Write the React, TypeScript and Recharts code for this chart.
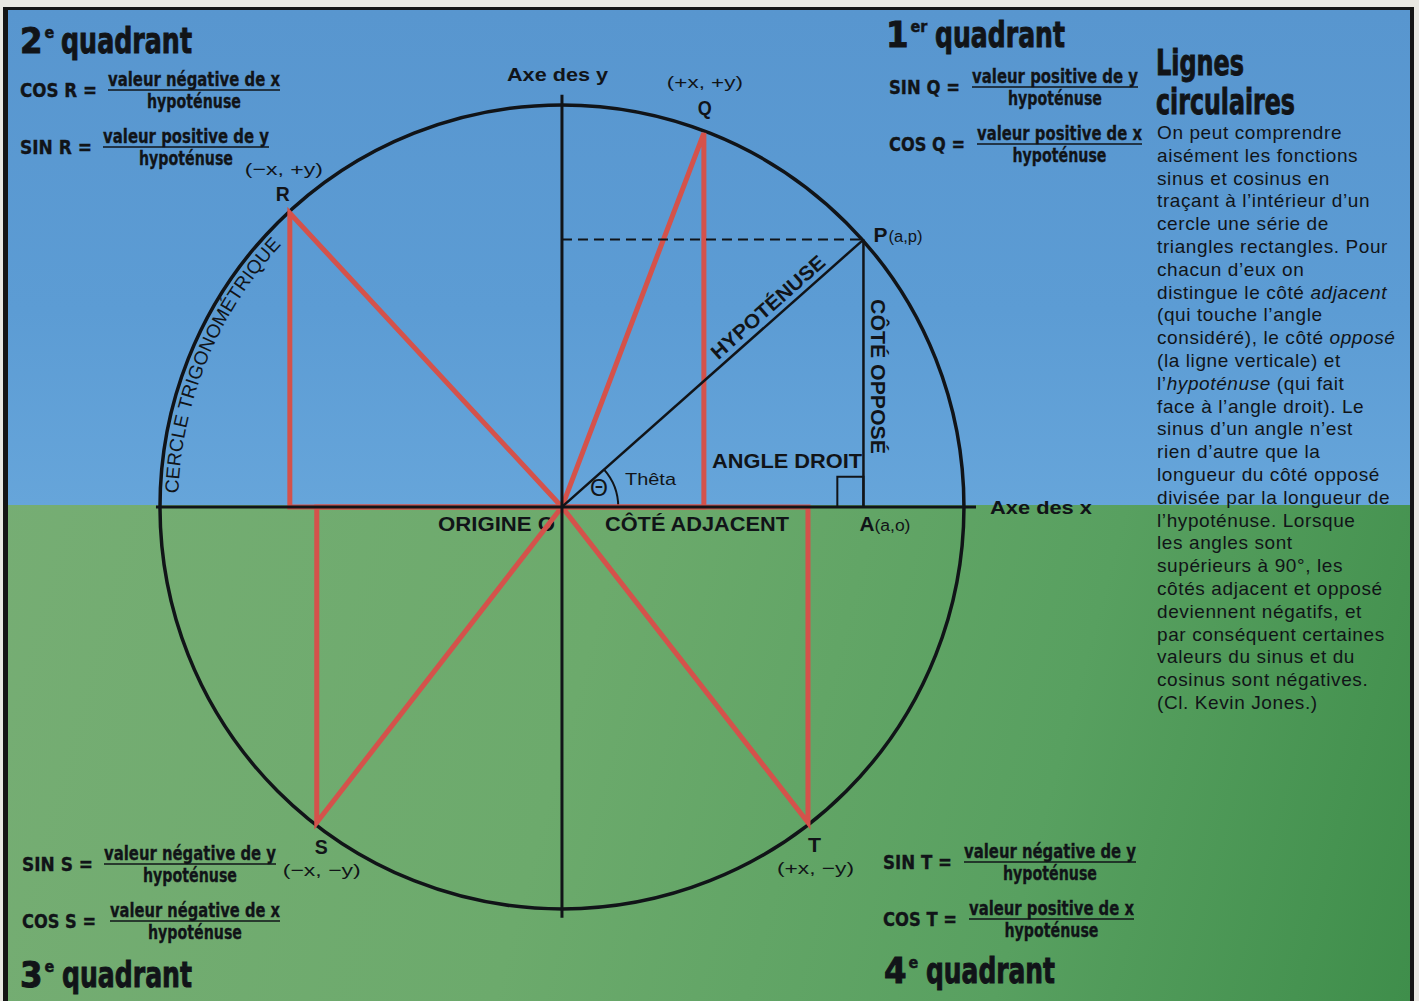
import React from 'react';
import {
  ComposedChart,
  XAxis,
  YAxis,
  Line,
  ReferenceLine,
  ReferenceArea,
  ReferenceDot,
  Customized,
} from 'recharts';

const W = 1419;
const H = 1001;
const INK = '#111418';
const RED = '#d4524b';
const NARROW = '"Liberation Sans Narrow", "DejaVu Sans Condensed", "Roboto Condensed", sans-serif';
const SANS = '"Liberation Sans", Arial, Helvetica, sans-serif';

// unit circle, radius = 1
const origin = { x: 0, y: 0 };
const pointP = { x: 0.75, y: 0.665 };
const pointA = { x: 0.75, y: 0 };
const pointQ = { x: 0.353, y: 0.93 };
const pointR = { x: -0.677, y: 0.731 };
const pointS = { x: -0.61, y: -0.785 };
const pointT = { x: 0.612, y: -0.785 };

const triangleQ = [origin, pointQ, { x: pointQ.x, y: 0 }, origin];
const triangleR = [origin, pointR, { x: pointR.x, y: 0 }, origin];
const triangleS = [origin, pointS, { x: pointS.x, y: 0 }, origin];
const triangleT = [origin, pointT, { x: pointT.x, y: 0 }, origin];
const hypotenuse = [origin, pointP];
const opposite = [pointP, pointA];

const xDomain = [-1.398, 2.132];
const yDomain = [-1.229, 1.261];
const xAxisExtent = [-1.01, 1.03];
const yAxisExtent = [-1.022, 1.025];

const thetaDeg = (Math.atan2(pointP.y, pointP.x) * 180) / Math.PI;

const formulas = [
  { label: 'COS R =', num: 'valeur négative de x' },
  { label: 'SIN R =', num: 'valeur positive de y' },
  { label: 'SIN Q =', num: 'valeur positive de y' },
  { label: 'COS Q =', num: 'valeur positive de x' },
  { label: 'SIN S =', num: 'valeur négative de y' },
  { label: 'COS S =', num: 'valeur négative de x' },
  { label: 'SIN T =', num: 'valeur négative de y' },
  { label: 'COS T =', num: 'valeur positive de x' },
];
const formulaLayout = [
  { x: 20, y: 86, lw: 77, nx: 108, nw: 172 },
  { x: 20, y: 143, lw: 72, nx: 103, nw: 166 },
  { x: 889, y: 83, lw: 71, nx: 972, nw: 166 },
  { x: 889, y: 140, lw: 76, nx: 977, nw: 165 },
  { x: 22, y: 860, lw: 71, nx: 104, nw: 172 },
  { x: 22, y: 917, lw: 74, nx: 110, nw: 170 },
  { x: 883, y: 858, lw: 69, nx: 964, nw: 172 },
  { x: 883, y: 915, lw: 74, nx: 969, nw: 165 },
];

const quadrants = [
  { num: '2', sup: 'e' },
  { num: '1', sup: 'er' },
  { num: '3', sup: 'e' },
  { num: '4', sup: 'e' },
];
const quadrantLayout = [
  { x: 20, wx: 61, ww: 131, y: 53 },
  { x: 886, wx: 935, ww: 130, y: 47 },
  { x: 20, wx: 62, ww: 130, y: 987 },
  { x: 884, wx: 926, ww: 129, y: 983 },
];

// _..._ marks italic words
const paragraph = [
  'On peut comprendre',
  'aisément les fonctions',
  'sinus et cosinus en',
  'traçant à l’intérieur d’un',
  'cercle une série de',
  'triangles rectangles. Pour',
  'chacun d’eux on',
  'distingue le côté _adjacent_',
  '(qui touche l’angle',
  'considéré), le côté _opposé_',
  '(la ligne verticale) et',
  'l’_hypoténuse_ (qui fait',
  'face à l’angle droit). Le',
  'sinus d’un angle n’est',
  'rien d’autre que la',
  'longueur du côté opposé',
  'divisée par la longueur de',
  'l’hypoténuse. Lorsque',
  'les angles sont',
  'supérieurs à 90°, les',
  'côtés adjacent et opposé',
  'deviennent négatifs, et',
  'par conséquent certaines',
  'valeurs du sinus et du',
  'cosinus sont négatives.',
  '(Cl. Kevin Jones.)',
];

type Tag = { text: string; dx: number; dy: number; size: number; w: number; bold?: boolean };

const tagShape = (tags: Tag[]) => (p: any) => (
  <g>
    {tags.map((t, i) => (
      <text
        key={i}
        x={p.cx + t.dx}
        y={p.cy + t.dy}
        fontFamily={SANS}
        fontSize={t.size}
        fontWeight={t.bold ? 700 : 400}
        fill={INK}
        textLength={t.w}
        lengthAdjust="spacingAndGlyphs"
      >
        {t.text}
      </text>
    ))}
  </g>
);

const CircleShape = (props: any) => {
  const { x, y, width, height } = props;
  const cx = x + width / 2;
  const cy = y + height / 2;
  const rt = (width / 2) * 0.955;
  const a0 = (178 * Math.PI) / 180;
  const a1 = (125 * Math.PI) / 180;
  const x0 = cx + rt * Math.cos(a0);
  const y0 = cy - rt * Math.sin(a0);
  const x1 = cx + rt * Math.cos(a1);
  const y1 = cy - rt * Math.sin(a1);
  return (
    <g>
      <ellipse cx={cx} cy={cy} rx={width / 2} ry={height / 2} fill="none" stroke={INK} strokeWidth={3.5} />
      <path id="cercle-path" d={`M ${x0} ${y0} A ${rt} ${rt} 0 0 1 ${x1} ${y1}`} fill="none" />
      <text fontFamily={SANS} fontSize={19} fill={INK} letterSpacing={0.2}>
        <textPath href="#cercle-path">CERCLE TRIGONOMÉTRIQUE</textPath>
      </text>
    </g>
  );
};

const ThetaArc = (props: any) => {
  const { x, y, width, height } = props;
  const cx = x + width / 2;
  const cy = y + height / 2;
  const r = width / 2;
  const a = (thetaDeg * Math.PI) / 180;
  return (
    <path
      d={`M ${cx + r} ${cy} A ${r} ${r} 0 0 0 ${cx + r * Math.cos(a)} ${cy - r * Math.sin(a)}`}
      fill="none"
      stroke={INK}
      strokeWidth={2}
    />
  );
};

const HypLabel = (p: any) => (
  <g transform={`translate(${p.cx},${p.cy}) rotate(${-thetaDeg})`}>
    <text x={-72} y={-6} fontFamily={SANS} fontWeight={700} fontSize={20} fill={INK} textLength={145} lengthAdjust="spacingAndGlyphs">
      HYPOTÉNUSE
    </text>
  </g>
);

const OppLabel = (p: any) => (
  <g transform={`translate(${p.cx + 8},${p.cy}) rotate(90)`}>
    <text x={-78} y={0} fontFamily={SANS} fontWeight={700} fontSize={20} fill={INK} textLength={155} lengthAdjust="spacingAndGlyphs">
      CÔTÉ OPPOSÉ
    </text>
  </g>
);

function Annotations() {
  return (
    <g>
      {quadrants.map((q, i) => {
        const l = quadrantLayout[i];
        return (
          <g key={i} fontFamily={NARROW} fontWeight={700} fill={INK} stroke={INK} strokeWidth={0.9}>
            <text x={l.x} y={l.y} fontSize={36}>
              {q.num}
              <tspan dx={2} dy={-15} fontSize={16} strokeWidth={0.4}>{q.sup}</tspan>
            </text>
            <text x={l.wx} y={l.y} fontSize={36} textLength={l.ww} lengthAdjust="spacingAndGlyphs">quadrant</text>
          </g>
        );
      })}
      <g fontFamily={NARROW} fontWeight={700} fill={INK} stroke={INK} strokeWidth={0.9} fontSize={36}>
        <text x={1156} y={75} textLength={88} lengthAdjust="spacingAndGlyphs">Lignes</text>
        <text x={1156} y={114} textLength={139} lengthAdjust="spacingAndGlyphs">circulaires</text>
      </g>
      {formulas.map((f, i) => {
        const l = formulaLayout[i];
        const mid = l.nx + l.nw / 2;
        return (
          <g key={i} fontFamily={NARROW} fontWeight={700} fontSize={19} fill={INK} stroke={INK} strokeWidth={0.3}>
            <text x={l.x} y={l.y + 11} textLength={l.lw} lengthAdjust="spacingAndGlyphs">{f.label}</text>
            <text x={l.nx} y={l.y} textLength={l.nw} lengthAdjust="spacingAndGlyphs">{f.num}</text>
            <line x1={l.nx} x2={l.nx + l.nw} y1={l.y + 4} y2={l.y + 4} stroke={INK} strokeWidth={1.6} />
            <text x={mid - 47} y={l.y + 22} textLength={94} lengthAdjust="spacingAndGlyphs">hypoténuse</text>
          </g>
        );
      })}
      <g fontFamily={SANS} fill={INK} fontSize={19} letterSpacing={0.6}>
        {paragraph.map((line, i) => (
          <text key={i} x={1157} y={139 + i * 22.8}>
            {line.split('_').map((seg, j) => (
              <tspan key={j} fontStyle={j % 2 === 1 ? 'italic' : 'normal'}>{seg}</tspan>
            ))}
          </text>
        ))}
      </g>
      <g fontFamily={SANS} fontWeight={700} fill={INK}>
        <text x={507} y={81} fontSize={19} textLength={101} lengthAdjust="spacingAndGlyphs">Axe des y</text>
        <text x={990} y={514} fontSize={19} textLength={102} lengthAdjust="spacingAndGlyphs">Axe des x</text>
        <text x={712} y={468} fontSize={20} textLength={150} lengthAdjust="spacingAndGlyphs">ANGLE DROIT</text>
        <text x={605} y={531} fontSize={20} textLength={184} lengthAdjust="spacingAndGlyphs">CÔTÉ ADJACENT</text>
        <text x={438} y={531} fontSize={20} textLength={117} lengthAdjust="spacingAndGlyphs">ORIGINE O</text>
      </g>
      <text x={625} y={485} fontFamily={SANS} fontSize={17} fill={INK} textLength={51} lengthAdjust="spacingAndGlyphs">Thêta</text>
      <text x={590} y={496} fontFamily={SANS} fontSize={23} fill={INK}>Θ</text>
    </g>
  );
}

const lineProps = {
  dataKey: 'y',
  type: 'linear' as const,
  dot: false,
  activeDot: false,
  isAnimationActive: false,
  strokeLinejoin: 'miter' as const,
  legendType: 'none' as const,
};

export default function App() {
  return (
    <div style={{ position: 'absolute', left: 0, top: 0, width: W, height: H, background: '#e9e8e2', overflow: 'hidden' }}>
      <div
        style={{
          position: 'absolute',
          left: 3,
          top: 7,
          width: 1411,
          height: 994,
          boxSizing: 'border-box',
          borderLeft: '5px solid #151515',
          borderTop: '3px solid #151515',
          borderRight: '4px solid #151515',
          background:
            'linear-gradient(180deg, #5896cf 0px, #5c9cd4 300px, #66a5da 495px, rgba(0,0,0,0) 495px), linear-gradient(105deg, #78ae75 0%, #6caa6c 45%, #58a060 75%, #3f8e4b 100%)',
        }}
      />
      <div style={{ position: 'absolute', left: 0, top: 0 }}>
        <ComposedChart width={W} height={H} margin={{ top: 0, right: 0, bottom: 0, left: 0 }}>
          <XAxis type="number" dataKey="x" domain={xDomain} allowDataOverflow hide />
          <YAxis type="number" dataKey="y" domain={yDomain} allowDataOverflow hide />
          <ReferenceArea x1={-1} x2={1} y1={-1} y2={1} shape={CircleShape} />
          <ReferenceArea x1={-0.14} x2={0.14} y1={-0.14} y2={0.14} shape={ThetaArc} />
          <ReferenceArea x1={pointA.x - 0.065} x2={pointA.x} y1={0} y2={0.075} fill="none" stroke={INK} strokeWidth={2} fillOpacity={0} />
          <Line {...lineProps} data={triangleR} stroke={RED} strokeWidth={5} />
          <Line {...lineProps} data={triangleQ} stroke={RED} strokeWidth={5} />
          <Line {...lineProps} data={triangleS} stroke={RED} strokeWidth={5} />
          <Line {...lineProps} data={triangleT} stroke={RED} strokeWidth={5} />
          <Line {...lineProps} data={hypotenuse} stroke={INK} strokeWidth={2.5} />
          <Line {...lineProps} data={opposite} stroke={INK} strokeWidth={2.5} />
          <ReferenceLine
            segment={[{ x: 0, y: pointP.y }, { x: pointP.x, y: pointP.y }]}
            stroke={INK}
            strokeWidth={2}
            strokeDasharray="10 6"
          />
          <ReferenceLine segment={[{ x: xAxisExtent[0], y: 0 }, { x: xAxisExtent[1], y: 0 }]} stroke={INK} strokeWidth={3} />
          <ReferenceLine segment={[{ x: 0, y: yAxisExtent[0] }, { x: 0, y: yAxisExtent[1] }]} stroke={INK} strokeWidth={3} />
          <ReferenceDot x={pointP.x * 0.71} y={pointP.y * 0.71} shape={HypLabel} />
          <ReferenceDot x={pointA.x} y={pointP.y * 0.486} shape={OppLabel} />
          <ReferenceDot
            x={pointQ.x}
            y={pointQ.y}
            shape={tagShape([
              { text: 'Q', dx: -6, dy: -18, size: 20, w: 14, bold: true },
              { text: '(+x, +y)', dx: -37, dy: -45, size: 17, w: 76 },
            ])}
          />
          <ReferenceDot
            x={pointR.x}
            y={pointR.y}
            shape={tagShape([
              { text: 'R', dx: -14, dy: -12, size: 20, w: 14, bold: true },
              { text: '(−x, +y)', dx: -45, dy: -38, size: 17, w: 78 },
            ])}
          />
          <ReferenceDot
            x={pointS.x}
            y={pointS.y}
            shape={tagShape([
              { text: 'S', dx: -2, dy: 31, size: 20, w: 13, bold: true },
              { text: '(−x, −y)', dx: -34, dy: 53, size: 17, w: 78 },
            ])}
          />
          <ReferenceDot
            x={pointT.x}
            y={pointT.y}
            shape={tagShape([
              { text: 'T', dx: 0, dy: 29, size: 20, w: 13, bold: true },
              { text: '(+x, −y)', dx: -31, dy: 51, size: 17, w: 77 },
            ])}
          />
          <ReferenceDot
            x={pointP.x}
            y={pointP.y}
            shape={tagShape([
              { text: 'P', dx: 10, dy: 2, size: 21, w: 14, bold: true },
              { text: '(a,p)', dx: 25, dy: 2, size: 16, w: 34 },
            ])}
          />
          <ReferenceDot
            x={pointA.x}
            y={pointA.y}
            shape={tagShape([
              { text: 'A', dx: -4, dy: 24, size: 21, w: 15, bold: true },
              { text: '(a,o)', dx: 11, dy: 24, size: 16, w: 36 },
            ])}
          />
          <Customized component={<Annotations />} />
        </ComposedChart>
      </div>
    </div>
  );
}
